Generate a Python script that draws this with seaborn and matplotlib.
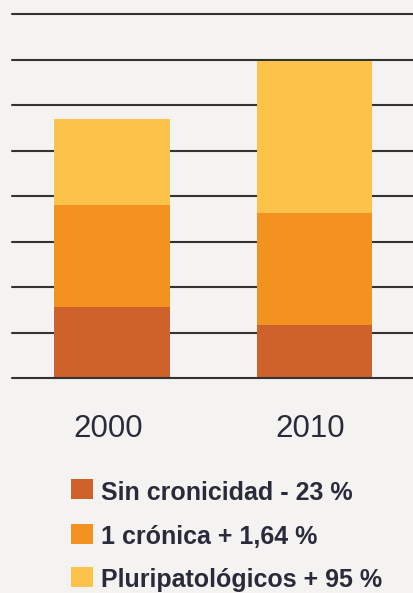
import matplotlib
matplotlib.use("Agg")
import matplotlib.pyplot as plt
import matplotlib.transforms as mtransforms
import seaborn as sns
import pandas as pd
from matplotlib.patches import Rectangle

# ---- data (arbitrary units, one gridline = 1) ----
years = ["2000", "2010"]
sin_cronicidad = [1.57, 1.16]
una_cronica = [2.24, 2.46]
pluripatologicos = [1.88, 3.34]
series_labels = ["Sin cronicidad - 23 %", "1 crónica + 1,64 %", "Pluripatológicos + 95 %"]
grid_values = list(range(0, 9))

colors = ["#CF612A", "#F39220", "#FCC24A"]
bg = "#F4F3F1"
line_color = "#333333"
text_color = "#2A2B3A"

sns.set_theme(style="white")
plt.rcParams['font.family'] = ['Liberation Sans', 'DejaVu Sans']

W, H = 413, 593
fig = plt.figure(figsize=(W / 100, H / 100), dpi=100, facecolor=bg)

px_per_unit = 45.54
base_px = 378.3
ymax = 8.3
top_px = base_px - ymax * px_per_unit
left_px = 12.3
ax = fig.add_axes([left_px / W, (H - base_px) / H, 1 - left_px / W, (base_px - top_px) / H])
ax.set_facecolor(bg)

df = pd.DataFrame({
    "year": years,
    "sin": sin_cronicidad,
    "cron": una_cronica,
    "pluri": pluripatologicos,
})
df["mid"] = df["sin"] + df["cron"]
df["total"] = df["mid"] + df["pluri"]

bar_w = 0.572
for col, c in zip(["total", "mid", "sin"], colors[::-1]):
    sns.barplot(data=df, x="year", y=col, color=c, width=bar_w, saturation=1,
                linewidth=0, edgecolor="none", ax=ax, zorder=2)

for g in grid_values:
    ax.axhline(g, color=line_color, lw=1.5, zorder=1 if g > 0 else 4, clip_on=False)

ax.set_xlim(-0.494, 1.487)
ax.set_ylim(0, ymax)
ax.set_yticks([])
ax.set_xlabel("")
ax.set_ylabel("")
for s in ax.spines.values():
    s.set_visible(False)
ax.tick_params(axis="x", length=0, pad=26, labelsize=22.5, labelcolor=text_color)
shift = mtransforms.ScaledTranslation(-4 / 100, 0, fig.dpi_scale_trans)
for lbl in ax.get_xticklabels():
    lbl.set_transform(lbl.get_transform() + shift)

# ---- legend (manual, pixel layout) ----
sq_x, sq_w, sq_h = 71, 21.7, 20
row_tops = [479, 524, 567]
for lab, c, t in zip(series_labels, colors, row_tops):
    fig.add_artist(Rectangle((sq_x / W, (H - t - sq_h) / H), sq_w / W, sq_h / H,
                             transform=fig.transFigure, facecolor=c, edgecolor="none"))
    fig.text(100.7 / W, (H - (t + sq_h / 2 + 1)) / H, lab, ha="left", va="center_baseline",
             fontsize=18, fontweight="bold", color=text_color)

fig.savefig("out.png", dpi=100, facecolor=bg)
